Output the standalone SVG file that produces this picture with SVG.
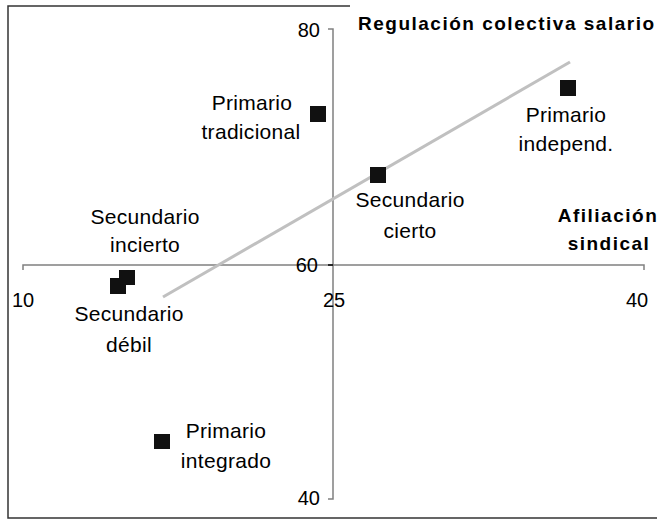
<svg xmlns="http://www.w3.org/2000/svg" width="657" height="519" viewBox="0 0 657 519">
<style>
.lbl{font-family:"Liberation Sans",Arial,sans-serif;font-size:21px;letter-spacing:0.3px;fill:#000;text-anchor:middle}
.num{font-family:"Liberation Sans",Arial,sans-serif;font-size:20px;fill:#000}
.bold{font-family:"Liberation Sans",Arial,sans-serif;font-size:19px;font-weight:bold;letter-spacing:1.5px;fill:#000}
.axis{stroke:#808080;stroke-width:1.5;fill:none}
.pt{fill:#111}
</style>
<rect width="657" height="519" fill="#fff"/>
<path d="M350,6 H8 V518 H657" fill="none" stroke="#333" stroke-width="1.5"/>
<g id="axes">
<path class="axis" d="M23,270 V265 H644 V270"/>
<path class="axis" d="M328,29 H333 V499 H328"/>
<path d="M328,265 H333" stroke="#000" stroke-width="1.5"/>
<text class="num" x="320" y="37" text-anchor="end">80</text>
<text class="num" x="318" y="272" text-anchor="end">60</text>
<text class="num" x="320" y="505" text-anchor="end">40</text>
<text class="num" x="23" y="307" text-anchor="middle">10</text>
<text class="num" x="334" y="307" text-anchor="middle">25</text>
<text class="num" x="637" y="307" text-anchor="middle">40</text>
</g>
<g id="connectors">
<line x1="163" y1="297" x2="570" y2="62" stroke="#c0c0c0" stroke-width="3"/>
</g>
<g id="title"><text class="bold" x="358" y="30">Regulación colectiva salario</text></g>
<g id="xlabel"><text class="bold" text-anchor="middle"><tspan x="608" y="222">Afiliación</tspan><tspan x="609" y="250">sindical</tspan></text></g>
<g id="primario-tradicional"><rect class="pt" x="310" y="106" width="16" height="16"/><text class="lbl"><tspan x="252" y="110">Primario</tspan><tspan x="251" y="139">tradicional</tspan></text></g>
<g id="primario-independ"><rect class="pt" x="560" y="80" width="16" height="16"/><text class="lbl"><tspan x="566" y="122">Primario</tspan><tspan x="566" y="151">independ.</tspan></text></g>
<g id="secundario-cierto"><rect class="pt" x="370" y="167" width="16" height="16"/><text class="lbl"><tspan x="410" y="207">Secundario</tspan><tspan x="410" y="238">cierto</tspan></text></g>
<g id="secundario-incierto"><rect class="pt" x="119" y="270" width="16" height="15"/><text class="lbl"><tspan x="145" y="224">Secundario</tspan><tspan x="145" y="252">incierto</tspan></text></g>
<g id="secundario-debil"><rect class="pt" x="110" y="278" width="16" height="16"/><text class="lbl"><tspan x="129" y="321">Secundario</tspan><tspan x="129" y="352">débil</tspan></text></g>
<g id="primario-integrado"><rect class="pt" x="154" y="434" width="16" height="15"/><text class="lbl"><tspan x="226" y="438">Primario</tspan><tspan x="226" y="468">integrado</tspan></text></g>
</svg>
